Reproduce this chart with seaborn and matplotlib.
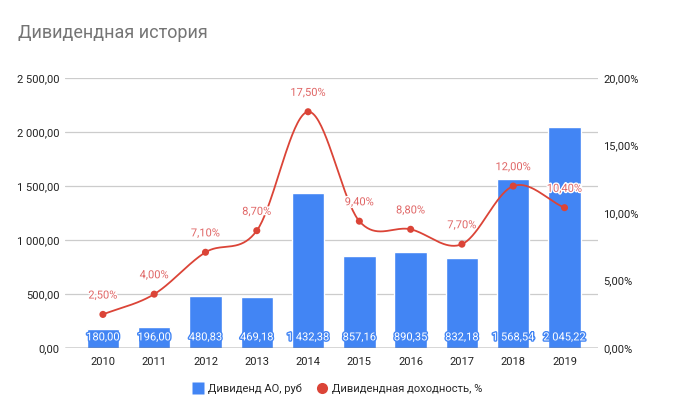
import numpy as np
import pandas as pd
import matplotlib
matplotlib.use("Agg")
import matplotlib.pyplot as plt
import matplotlib.patheffects as pe
import seaborn as sns
from matplotlib.lines import Line2D

years = ["2010", "2011", "2012", "2013", "2014", "2015", "2016", "2017", "2018", "2019"]
dividend = [180.00, 196.00, 480.83, 469.18, 1432.38, 857.16, 890.35, 832.18, 1568.54, 2045.22]
yield_pct = [2.50, 4.00, 7.10, 8.70, 17.50, 9.40, 8.80, 7.70, 12.00, 10.40]
left_ticks = [0, 500, 1000, 1500, 2000, 2500]
right_ticks = [0, 5, 10, 15, 20]

BLUE = "#4285F4"
RED = "#DB4437"
LABEL_RED = "#E06666"

sns.set_theme(style="white")
plt.rcParams["font.family"] = ["Roboto", "DejaVu Sans"]

def ru_num(v):
    s = f"{v:,.2f}"
    return s.replace(",", " ").replace(".", ",")

df = pd.DataFrame({"year": years, "div": dividend, "yld": yield_pct})

fig = plt.figure(figsize=(6.74, 4.17), dpi=100)
ax = fig.add_axes([0.0964, 0.165, 0.7906, 0.648])
sns.barplot(data=df, x="year", y="div", color=BLUE, saturation=1, width=0.63, ax=ax, zorder=2)
ax.set_ylim(0, 2500)
ax.set_xlim(-0.74, 9.65)
ax.set_yticks(left_ticks)
ax.set_yticklabels([ru_num(t) for t in left_ticks])
for t in left_ticks[1:]:
    ax.axhline(t, color="#CCCCCC", lw=0.9, zorder=0)
ax.axhline(0, color="#333333", lw=1.0, zorder=3)
for s in ax.spines.values():
    s.set_visible(False)
ax.tick_params(axis="both", length=0, labelsize=8, colors="#222222")
ax.tick_params(axis="x", pad=6)
ax.tick_params(axis="y", pad=4)
ax.set_xlabel("")
ax.set_ylabel("")

for i, v in enumerate(dividend):
    ax.text(i, 100, ru_num(v), ha="center", va="center", color="white", fontsize=8, zorder=4,
            path_effects=[pe.withStroke(linewidth=2, foreground=BLUE)])

ax2 = ax.twinx()
ax2.set_ylim(0, 20)
ax2.set_yticks(right_ticks)
ax2.set_yticklabels([f"{t:.2f}%".replace(".", ",") for t in right_ticks])
ax2.tick_params(axis="y", length=0, labelsize=8, colors="#222222", pad=4)
for s in ax2.spines.values():
    s.set_visible(False)

# smooth curve (cubic Bezier through data points)
x = np.arange(len(yield_pct), dtype=float)
y = np.array(yield_pct, dtype=float)
xs, ys = [], []
n = len(x)
for i in range(n - 1):
    i0, i3 = max(i - 1, 0), min(i + 2, n - 1)
    p1 = np.array([x[i], y[i]])
    p2 = np.array([x[i + 1], y[i + 1]])
    c1 = np.array([p1[0] + 1 / 3, p1[1] + (y[i + 1] - y[i0]) / (x[i + 1] - x[i0]) / 3])
    c2 = np.array([p2[0] - 1 / 3, p2[1] - (y[i3] - y[i]) / (x[i3] - x[i]) / 3])
    t = np.linspace(0, 1, 40)[:, None]
    pts = (1 - t) ** 3 * p1 + 3 * (1 - t) ** 2 * t * c1 + 3 * (1 - t) * t ** 2 * c2 + t ** 3 * p2
    xs.extend(pts[:, 0]); ys.extend(pts[:, 1])
ax2.plot(xs, ys, color=RED, lw=1.3, zorder=5)
sns.scatterplot(x=x, y=y, color=RED, s=26, edgecolor="none", ax=ax2, zorder=6, legend=False)
for i, v in enumerate(yield_pct):
    ax2.annotate(f"{v:.2f}%".replace(".", ","), (i, v), xytext=(0, 10), textcoords="offset points",
                 ha="center", va="bottom", color=LABEL_RED, fontsize=8, zorder=7,
                 path_effects=[pe.withStroke(linewidth=2, foreground="white")])
ax2.set_ylabel("")

fig.text(0.027, 0.92, "Дивидендная история", fontsize=13, color="#757575", ha="left", va="center")

handles = [
    Line2D([0], [0], marker="s", color="none", markerfacecolor=BLUE, markeredgecolor="none", markersize=8),
    Line2D([0], [0], marker="o", color="none", markerfacecolor=RED, markeredgecolor="none", markersize=8),
]
fig.legend(handles, ["Дивиденд АО, руб", "Дивидендная доходность, %"], loc="center",
           bbox_to_anchor=(0.5, 0.067), ncol=2, frameon=False, fontsize=8, handletextpad=0.3,
           columnspacing=1.2, handlelength=1.2)

fig.savefig("out.png", dpi=100)
